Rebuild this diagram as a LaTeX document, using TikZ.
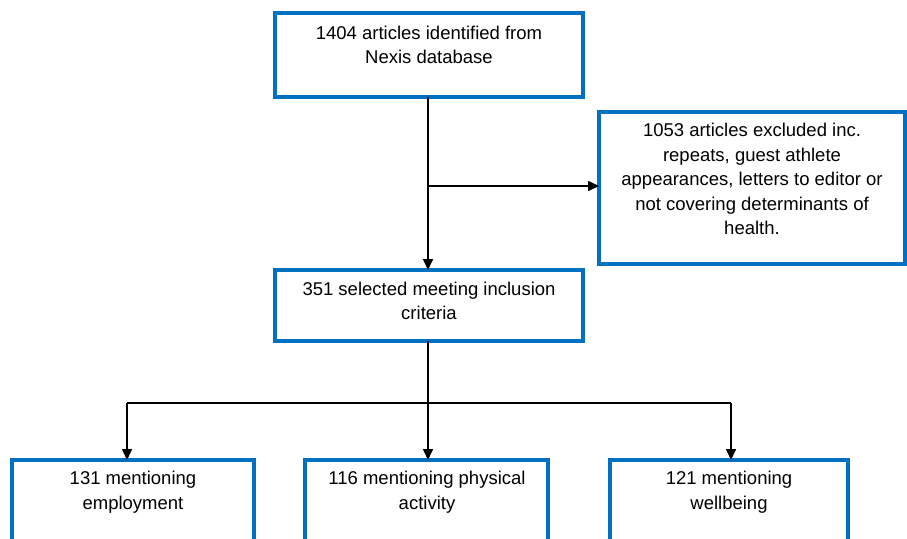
\documentclass[tikz,border=0pt]{standalone}
\usepackage{fontspec}
\setmainfont{Liberation Sans}
\usetikzlibrary{arrows.meta}
\definecolor{boxblue}{RGB}{0,112,192}
\begin{document}
\begin{tikzpicture}[x=1pt,y=-1pt,
  box/.style={draw=boxblue,line width=3.2pt,fill=white,anchor=north west,inner sep=0pt,outer sep=0pt},
  txt/.style={align=center,font=\fontsize{18.5}{24.5}\selectfont,inner sep=0pt},
  conn/.style={draw=black,line width=1.6pt},
  arr/.style={conn,-{Triangle[length=11pt,width=10pt]}}]
\useasboundingbox (0,0) rectangle (907,538);
\clip (0,0) rectangle (907,538);
% boxes
\node (top) [box,minimum width=308pt,minimum height=84pt] at (275,13) {};
\node (excl) [box,minimum width=306pt,minimum height=152pt] at (599,112) {};
\node (mid) [box,minimum width=308pt,minimum height=71pt] at (275,270) {};
\node (emp) [box,minimum width=242pt,minimum height=110pt] at (12,460) {};
\node (pa) [box,minimum width=243pt,minimum height=110pt] at (305,460) {};
\node (wb) [box,minimum width=238pt,minimum height=110pt] at (610,460) {};
% texts
\node (topT) [txt] at (429,45) {1404 articles identified from\\Nexis database};
\node (exclT) [txt] at (752,179) {1053 articles excluded inc.\\repeats, guest athlete\\appearances, letters to editor or\\not covering determinants of\\health.};
\node (midT) [txt] at (429,301) {351 selected meeting inclusion\\criteria};
\node (empT) [txt] at (133,492) {131 mentioning\\employment};
\node (paT) [txt] at (427,492) {116 mentioning physical\\activity};
\node (wbT) [txt] at (729,492) {121 mentioning\\wellbeing};
% connectors
\coordinate (j1) at (428,186);
\coordinate (bj) at (428,403);
\coordinate (bl) at (127,403);
\coordinate (br) at (731,403);
\draw[arr] (428,97) -- (428,270);
\draw[arr] (j1) -- (excl.west |- j1);
\draw[conn] (428,341) -- (bj);
\draw[conn] (bl) -- (br);
\draw[arr] (bl) -- (bl |- emp.north);
\draw[arr] (bj) -- (bj |- pa.north);
\draw[arr] (br) -- (br |- wb.north);
\end{tikzpicture}
\end{document}
